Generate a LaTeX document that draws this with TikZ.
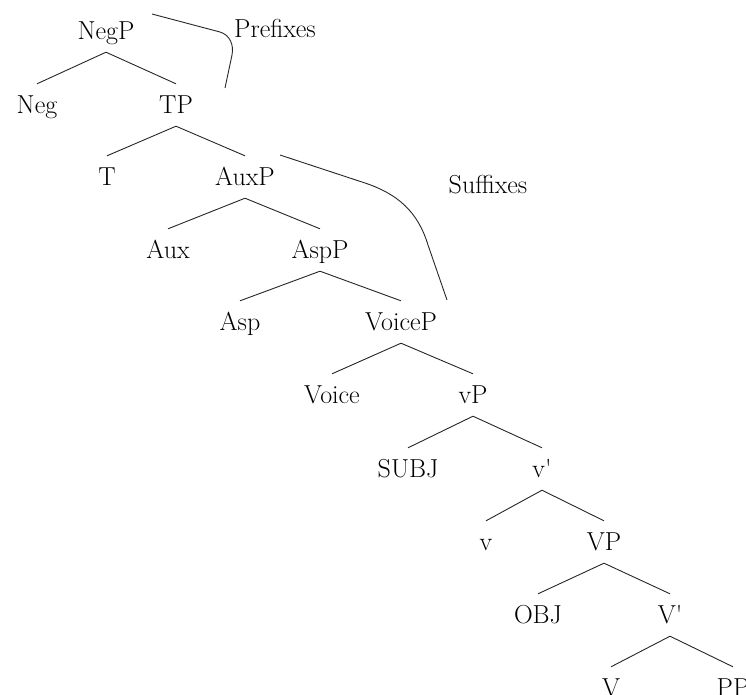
\documentclass[tikz,border=0pt]{standalone}
\begin{document}
\begin{tikzpicture}[x=1pt,y=-1pt,
  tn/.style={anchor=base, inner xsep=0pt, inner ysep=12pt, text height=17pt, text depth=1pt, font=\fontsize{26}{30}\selectfont},
  lab/.style={anchor=base, inner sep=0pt, font=\fontsize{26}{30}\selectfont},
  edge/.style={draw=black!85, line width=0.9pt},
  arc/.style={draw=black!85, line width=0.9pt}]
\clip (0,0) rectangle (746,694);
% nodes
\node[tn] (negp) at (106,39) {NegP};
\node[tn] (neg) at (37,113) {Neg};
\node[tn] (tp) at (176,113) {TP};
\node[tn] (t) at (107,185) {T};
\node[tn] (auxp) at (245,185) {AuxP};
\node[tn] (aux) at (168,258) {Aux};
\node[tn] (aspp) at (320,258) {AspP};
\node[tn] (asp) at (240,330) {Asp};
\node[tn] (voicep) at (401,330) {VoiceP};
\node[tn] (voice) at (332,403) {Voice};
\node[tn] (littlevp) at (473,403) {vP};
\node[tn] (subj) at (408,477) {SUBJ};
\node[tn] (vbar) at (542,477) {v\textquotesingle};
\node[tn] (littlev) at (486,550) {v};
\node[tn] (bigvp) at (604,550) {VP};
\node[tn] (obj) at (538,623) {OBJ};
\node[tn] (bigvbar) at (670,623) {V\textquotesingle};
\node[tn] (bigv) at (611,696) {V};
\node[tn] (pp) at (733,696) {PP};
\node[lab] (prefixes) at (275,37) {Prefixes};
\node[lab] (suffixes) at (488,193) {Suffixes};
% tree edges
\foreach \p/\c in {negp/neg,negp/tp,tp/t,tp/auxp,auxp/aux,auxp/aspp,aspp/asp,aspp/voicep,
  voicep/voice,voicep/littlevp,littlevp/subj,littlevp/vbar,vbar/littlev,vbar/bigvp,
  bigvp/obj,bigvp/bigvbar,bigvbar/bigv,bigvbar/pp}
  \draw[edge] (\p.south) -- (\c.north);
% prefix bracket
\coordinate (pa) at (152,14);
\coordinate (pb) at (220,32);
\coordinate (pc1) at (230,35);
\coordinate (pc2) at (234,45);
\coordinate (pd) at (232,55);
\coordinate (pe) at (225,88);
\draw[arc] (pa) -- (pb) .. controls (pc1) and (pc2) .. (pd) -- (pe);
% suffix bracket
\coordinate (sa) at (280,155);
\coordinate (sb) at (365,183);
\coordinate (sc1) at (398,194);
\coordinate (sc2) at (418,212);
\coordinate (sd) at (428,245);
\coordinate (se) at (447,300);
\draw[arc] (sa) -- (sb) .. controls (sc1) and (sc2) .. (sd) -- (se);
\end{tikzpicture}
\end{document}
